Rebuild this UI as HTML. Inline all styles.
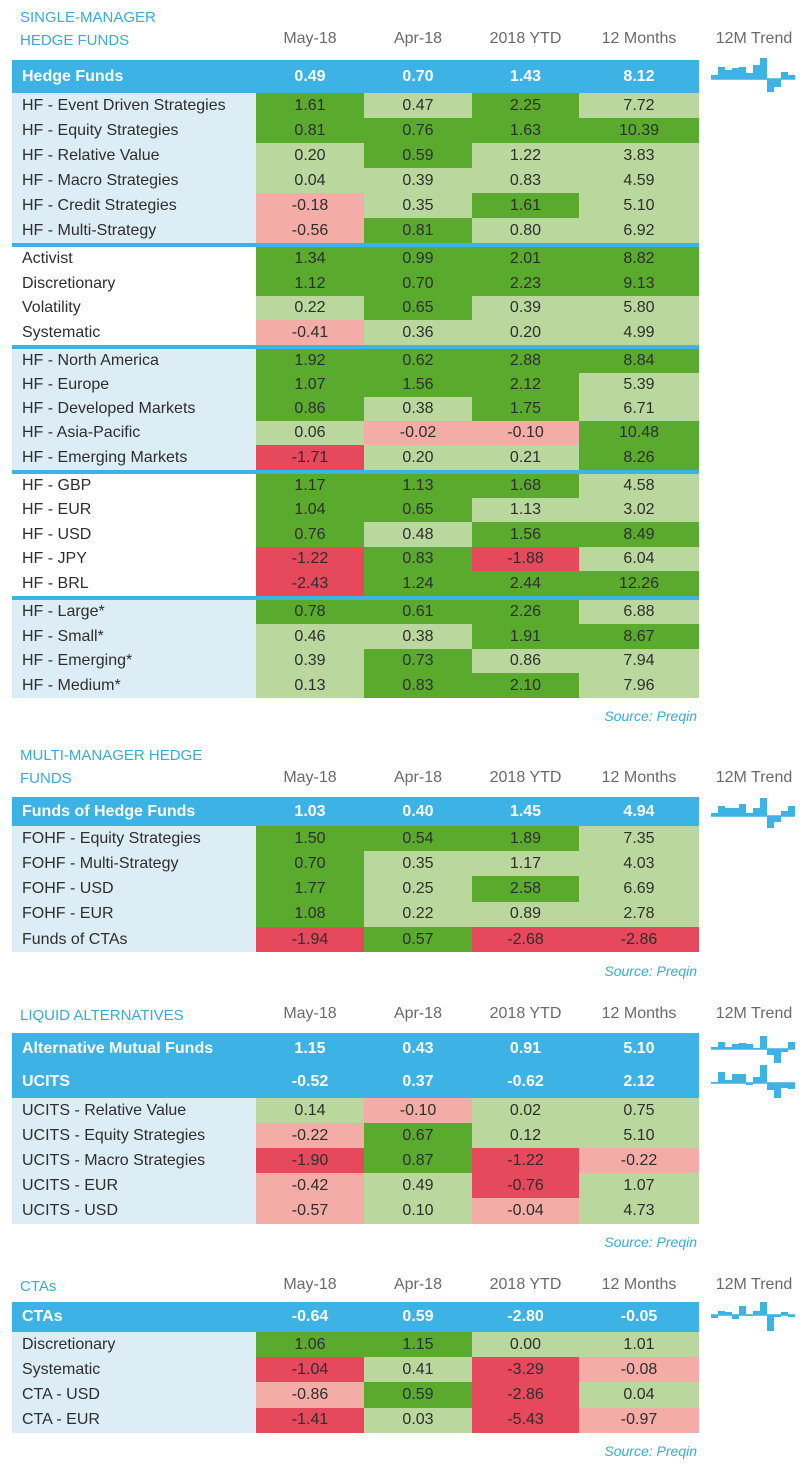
<!DOCTYPE html>
<html><head><meta charset="utf-8">
<style>
body{margin:0;width:810px;height:1468px;background:#fff;position:relative;overflow:hidden;font-family:"Liberation Sans",sans-serif;}
.a{position:absolute;box-sizing:border-box;}
.t{color:#3aaad8;font-size:15px;line-height:23px;}
.h{color:#6a6a6a;font-size:16px;text-align:center;}
.c{text-align:center;font-size:16px;color:#2e2e2e;display:flex;align-items:center;justify-content:center;}
.lb{font-size:16px;color:#2e2e2e;padding-left:10px;display:flex;align-items:center;}
.src{color:#3aaad8;font-style:italic;font-size:14px;text-align:right;width:300px;left:397px;}
.bb{background:#3cb3e4;color:#fff;font-weight:bold;}
</style></head><body>
<div class="a t" style="left:20px;top:6px">SINGLE-MANAGER<br>HEDGE FUNDS</div>
<div class="a t" style="left:20px;top:744px">MULTI-MANAGER HEDGE<br>FUNDS</div>
<div class="a t" style="left:20px;top:1004px">LIQUID ALTERNATIVES</div>
<div class="a t" style="left:20px;top:1275px">CTAs</div>
<div class="a src" style="top:708px">Source: Preqin</div>
<div class="a src" style="top:963px">Source: Preqin</div>
<div class="a src" style="top:1234px">Source: Preqin</div>
<div class="a src" style="top:1443px">Source: Preqin</div>
<svg id="spark" class="a" style="left:0;top:0" width="810" height="1468"></svg>
<script>
// column geometry
const colX=[256,364,472,579,699];
const headerLabels=["May-18","Apr-18","2018 YTD","12 Months","12M Trend"];
// Section 1 data
const s1Blue=[["Hedge Funds","0.49","0.70","1.43","8.12"]];
const s1Groups=[
 [["HF - Event Driven Strategies","1.61","0.47","2.25","7.72","dldl"],
  ["HF - Equity Strategies","0.81","0.76","1.63","10.39","dddd"],
  ["HF - Relative Value","0.20","0.59","1.22","3.83","ldll"],
  ["HF - Macro Strategies","0.04","0.39","0.83","4.59","llll"],
  ["HF - Credit Strategies","-0.18","0.35","1.61","5.10","pldl"],
  ["HF - Multi-Strategy","-0.56","0.81","0.80","6.92","pdll"]],
 [["Activist","1.34","0.99","2.01","8.82","dddd"],
  ["Discretionary","1.12","0.70","2.23","9.13","dddd"],
  ["Volatility","0.22","0.65","0.39","5.80","ldll"],
  ["Systematic","-0.41","0.36","0.20","4.99","plll"]],
 [["HF - North America","1.92","0.62","2.88","8.84","dddd"],
  ["HF - Europe","1.07","1.56","2.12","5.39","dddl"],
  ["HF - Developed Markets","0.86","0.38","1.75","6.71","dldl"],
  ["HF - Asia-Pacific","0.06","-0.02","-0.10","10.48","lppd"],
  ["HF - Emerging Markets","-1.71","0.20","0.21","8.26","rlld"]],
 [["HF - GBP","1.17","1.13","1.68","4.58","dddl"],
  ["HF - EUR","1.04","0.65","1.13","3.02","ddll"],
  ["HF - USD","0.76","0.48","1.56","8.49","dldd"],
  ["HF - JPY","-1.22","0.83","-1.88","6.04","rdrl"],
  ["HF - BRL","-2.43","1.24","2.44","12.26","rddd"]],
 [["HF - Large*","0.78","0.61","2.26","6.88","dddl"],
  ["HF - Small*","0.46","0.38","1.91","8.67","lldd"],
  ["HF - Emerging*","0.39","0.73","0.86","7.94","ldll"],
  ["HF - Medium*","0.13","0.83","2.10","7.96","lddl"]]];
const s2Blue=[["Funds of Hedge Funds","1.03","0.40","1.45","4.94"]];
const s2Rows=[["FOHF - Equity Strategies","1.50","0.54","1.89","7.35","dddl"],
 ["FOHF - Multi-Strategy","0.70","0.35","1.17","4.03","dlll"],
 ["FOHF - USD","1.77","0.25","2.58","6.69","dldl"],
 ["FOHF - EUR","1.08","0.22","0.89","2.78","dlll"],
 ["Funds of CTAs","-1.94","0.57","-2.68","-2.86","rdrr"]];
const s3Blue=[["Alternative Mutual Funds","1.15","0.43","0.91","5.10"],["UCITS","-0.52","0.37","-0.62","2.12"]];
const s3Rows=[["UCITS - Relative Value","0.14","-0.10","0.02","0.75","lpll"],
 ["UCITS - Equity Strategies","-0.22","0.67","0.12","5.10","pdll"],
 ["UCITS - Macro Strategies","-1.90","0.87","-1.22","-0.22","rdrp"],
 ["UCITS - EUR","-0.42","0.49","-0.76","1.07","plrl"],
 ["UCITS - USD","-0.57","0.10","-0.04","4.73","plpl"]];
const s4Blue=[["CTAs","-0.64","0.59","-2.80","-0.05"]];
const s4Rows=[["Discretionary","1.06","1.15","0.00","1.01","ddll"],
 ["Systematic","-1.04","0.41","-3.29","-0.08","rlrp"],
 ["CTA - USD","-0.86","0.59","-2.86","0.04","pdrl"],
 ["CTA - EUR","-1.41","0.03","-5.43","-0.97","rlrp"]];
// 12-month trend values (monthly returns, %)
const trendHF=[0.4,1.2,0.9,1.1,1.2,0.6,1.4,2.1,-1.3,-0.8,0.7,0.4];
const trendFOHF=[0.3,1.0,0.8,0.8,1.2,0.3,0.8,1.8,-1.2,-0.6,0.5,1.0];
const trendAMF=[0.2,0.7,0.2,0.5,0.6,0.5,0.1,1.3,-0.6,-1.4,-0.3,0.7];
const trendUCITS=[0.1,1.1,0.3,0.9,0.9,-0.2,0.6,1.8,-0.7,-1.5,-0.5,-0.6];
const trendCTA=[-0.3,0.4,0.3,-0.4,0.9,-0.1,0.4,1.3,-1.6,-0.2,0.3,-0.2];

const COL={d:"#5aaa2e",l:"#bad89d",p:"#f4aca6",r:"#e5495b"};
function el(cls,x,y,w,h,txt,bg){
  const e=document.createElement('div');
  e.className='a '+cls;
  e.style.left=x+'px';e.style.top=y+'px';e.style.width=w+'px';e.style.height=h+'px';
  if(bg)e.style.background=bg;
  e.textContent=txt;
  document.body.appendChild(e);
  return e;
}
function header(y){
  for(let i=0;i<5;i++){
    const x=i<4?colX[i]:704, w=i<4?colX[i+1]-colX[i]:100;
    const e=el('h',x,y-10,w,22,headerLabels[i]);
    
    
  }
}
function blueRows(rows,y,h){
  const bar=el('bb',12,y,colX[4]-12,h*rows.length,'');
  
  
  rows.forEach((r,k)=>{
    const ry=y+k*h;
    const l=el('lb bb',12,ry,244,h,r[0]);l.style.background='transparent';
    
    
    for(let i=0;i<4;i++){
      const c=el('c bb',colX[i],ry,colX[i+1]-colX[i],h,r[i+1]);c.style.background='transparent';c.style.color='#fff';
      
      
    }
  });
}
function rows(list,y,h,labelBg){
  list.forEach((r,k)=>{
    const ry=y+k*h;
    const l=el('lb',12,ry,244,h+0.5,r[0],labelBg);
    
    
    for(let i=0;i<4;i++){
      const c=el('c',colX[i],ry,colX[i+1]-colX[i],h+0.5,r[i+1],COL[r[5][i]]);
      
      
    }
  });
}
function sep(y){
  const s=el('',12,y,colX[4]-12,4,'','#3cb3e4');
  
  
}
const LB='#ddedf6';
// Section 1
header(40);
blueRows(s1Blue,60,33);
const g1Tops=[93,246.5,348.5,473,599.5], g1H=[25,24.6,24.2,24.6,24.6];
s1Groups.forEach((g,i)=>rows(g,g1Tops[i],g1H[i],i%2?'#fff':LB));
[243,345,469.5,596].forEach(sep);
// Section 2
header(779);
blueRows(s2Blue,797,29);
rows(s2Rows,826,25.2,LB);
// Section 3
header(1015);
blueRows(s3Blue,1033,32.5);
rows(s3Rows,1098,25,LB);
// Section 4
header(1286);
blueRows(s4Blue,1302,30);
rows(s4Rows,1332,25.2,LB);

// sparklines
const svg=document.getElementById('spark');
const NS='http://www.w3.org/2000/svg';
function spark(vals,base){
  const x0=711,bw=7,sc=10;
  const ln=document.createElementNS(NS,'line');
  ln.setAttribute('x1',x0);ln.setAttribute('x2',x0+bw*vals.length);
  ln.setAttribute('y1',base);ln.setAttribute('y2',base);
  ln.setAttribute('stroke','#3cb3e4');ln.setAttribute('stroke-width','1.5');
  
  
  svg.appendChild(ln);
  vals.forEach((v,i)=>{
    const r=document.createElementNS(NS,'rect');
    const hh=Math.abs(v)*sc;
    r.setAttribute('x',x0+i*bw);r.setAttribute('width',bw);
    r.setAttribute('y',v>=0?base-hh:base);r.setAttribute('height',Math.max(hh,1));
    r.setAttribute('fill','#3cb3e4');
    
    
    svg.appendChild(r);
  });
}
spark(trendHF,79);
spark(trendFOHF,816);
spark(trendAMF,1049);
spark(trendUCITS,1083);
spark(trendCTA,1315);
</script>
</body></html>
